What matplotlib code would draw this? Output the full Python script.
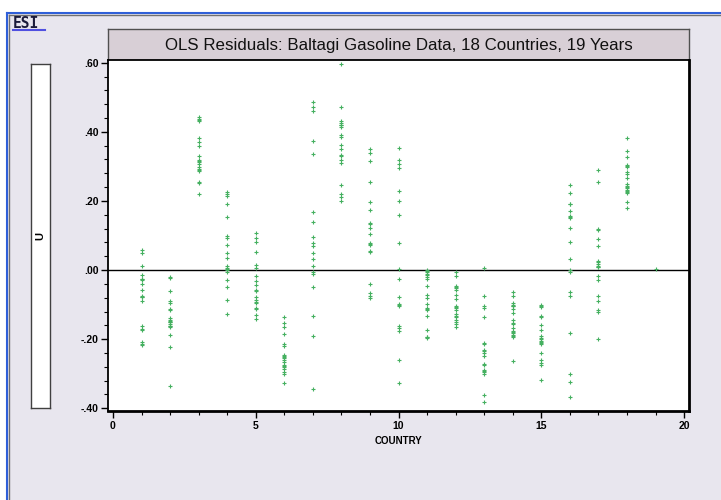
import matplotlib
matplotlib.use("Agg")
import matplotlib.pyplot as plt
from matplotlib.patches import Rectangle
from matplotlib.lines import Line2D
from matplotlib.ticker import MultipleLocator, FixedLocator

title = "OLS Residuals: Baltagi Gasoline Data, 18 Countries, 19 Years"
x_label = "COUNTRY"
y_label = "U"

countries = list(range(1, 20))
residuals = [
    [0.059, 0.048, 0.011, -0.014, -0.026, -0.027, -0.029, -0.040, -0.058, -0.075,
     -0.077, -0.079, -0.090, -0.161, -0.171, -0.174, -0.209, -0.213, -0.218],
    [-0.021, -0.024, -0.061, -0.091, -0.095, -0.112, -0.115, -0.140, -0.144, -0.147,
     -0.149, -0.151, -0.157, -0.161, -0.163, -0.166, -0.188, -0.222, -0.337],
    [0.444, 0.438, 0.433, 0.431, 0.382, 0.370, 0.360, 0.329, 0.318, 0.315,
     0.314, 0.306, 0.299, 0.292, 0.289, 0.286, 0.256, 0.253, 0.220],
    [0.225, 0.221, 0.214, 0.190, 0.153, 0.100, 0.094, 0.073, 0.048, 0.035,
     0.011, 0.006, 0.004, 0.001, -0.006, -0.029, -0.048, -0.088, -0.126],
    [0.107, 0.093, 0.080, 0.051, 0.016, 0.005, -0.016, -0.032, -0.044, -0.059,
     -0.062, -0.079, -0.086, -0.092, -0.096, -0.110, -0.113, -0.129, -0.142],
    [-0.136, -0.154, -0.164, -0.185, -0.214, -0.220, -0.246, -0.249, -0.253, -0.256,
     -0.260, -0.267, -0.274, -0.278, -0.281, -0.287, -0.294, -0.300, -0.326],
    [0.485, 0.471, 0.460, 0.374, 0.337, 0.168, 0.139, 0.096, 0.079, 0.071,
     0.050, 0.032, 0.011, -0.005, -0.011, -0.048, -0.134, -0.190, -0.343],
    [0.597, 0.471, 0.432, 0.425, 0.421, 0.419, 0.414, 0.392, 0.385, 0.361,
     0.350, 0.333, 0.331, 0.318, 0.311, 0.246, 0.220, 0.211, 0.201],
    [0.351, 0.340, 0.315, 0.256, 0.197, 0.174, 0.137, 0.134, 0.123, 0.104,
     0.078, 0.074, 0.072, 0.056, 0.052, -0.041, -0.067, -0.075, -0.081],
    [0.353, 0.318, 0.307, 0.296, 0.229, 0.200, 0.160, 0.078, 0.003, -0.027,
     -0.078, -0.097, -0.101, -0.104, -0.161, -0.169, -0.176, -0.260, -0.327],
    [0.000, -0.003, -0.007, -0.011, -0.015, -0.020, -0.025, -0.046, -0.071, -0.082,
     -0.097, -0.111, -0.113, -0.115, -0.132, -0.174, -0.193, -0.195, -0.198],
    [-0.007, -0.016, -0.046, -0.049, -0.052, -0.057, -0.073, -0.083, -0.104, -0.107,
     -0.110, -0.115, -0.127, -0.134, -0.137, -0.144, -0.150, -0.156, -0.165],
    [0.005, -0.075, -0.103, -0.110, -0.136, -0.212, -0.215, -0.230, -0.234, -0.239,
     -0.249, -0.273, -0.276, -0.289, -0.292, -0.295, -0.302, -0.362, -0.383],
    [-0.064, -0.075, -0.095, -0.101, -0.104, -0.105, -0.112, -0.123, -0.144, -0.152,
     -0.157, -0.168, -0.176, -0.179, -0.181, -0.188, -0.192, -0.195, -0.262],
    [-0.100, -0.104, -0.106, -0.132, -0.136, -0.159, -0.174, -0.191, -0.196, -0.200,
     -0.204, -0.209, -0.212, -0.215, -0.239, -0.259, -0.268, -0.275, -0.319],
    [0.246, 0.222, 0.192, 0.190, 0.171, 0.157, 0.154, 0.152, 0.123, 0.082,
     0.032, 0.000, -0.006, -0.064, -0.075, -0.183, -0.300, -0.324, -0.367],
    [0.289, 0.254, 0.120, 0.116, 0.091, 0.070, 0.027, 0.022, 0.017, 0.013,
     0.010, 0.008, -0.016, -0.029, -0.075, -0.091, -0.117, -0.120, -0.200],
    [0.382, 0.345, 0.326, 0.303, 0.300, 0.297, 0.285, 0.279, 0.267, 0.249,
     0.244, 0.241, 0.238, 0.232, 0.230, 0.227, 0.224, 0.197, 0.179],
    [0.002],
]
y_ticks = [-0.40, -0.20, 0.00, 0.20, 0.40, 0.60]
y_tick_labels = ["-.40", "-.20", ".00", ".20", ".40", ".60"]
x_ticks = [0, 5, 10, 15, 20]
x_tick_labels = ["0", "5", "10", "15", "20"]

W, H = 721, 500
BG = "#e8e6ee"
fig = plt.figure(figsize=(W / 100, H / 100), dpi=100, facecolor="white")
plt.rcParams["font.family"] = ["Liberation Sans", "DejaVu Sans"]

def fx(px):
    return px / W

def fy(py):
    return 1 - py / H

# window background & borders
fig.patches.append(Rectangle((fx(8), 0), 1 - fx(8), fy(12), transform=fig.transFigure,
                             facecolor=BG, edgecolor="none", zorder=-10))
fig.lines.append(Line2D([fx(7), 1], [fy(12.5), fy(12.5)], transform=fig.transFigure,
                        color="#2f5fd8", lw=1.5, zorder=-5))
fig.lines.append(Line2D([fx(7), fx(7)], [0, fy(12.5)], transform=fig.transFigure,
                        color="#2f5fd8", lw=1.5, zorder=-5))
fig.lines.append(Line2D([fx(9), 1], [fy(14.5), fy(14.5)], transform=fig.transFigure,
                        color="#707070", lw=1.0, zorder=-5))
fig.lines.append(Line2D([fx(9), fx(9)], [0, fy(14.5)], transform=fig.transFigure,
                        color="#707070", lw=1.0, zorder=-5))

# ESI logo
fig.text(fx(13), fy(23), "ESI", fontsize=10.5, fontweight="bold", family="DejaVu Sans Mono",
         color="#1a1a3a", va="center", ha="left")
fig.lines.append(Line2D([fx(13), fx(45)], [fy(30), fy(30)], transform=fig.transFigure,
                        color="#5050e0", lw=1.5))

# title box
tax = fig.add_axes([fx(108), fy(60), fx(689) - fx(108), fy(29) - fy(60)])
tax.set_facecolor("#d8cfd6")
tax.set_xticks([])
tax.set_yticks([])
for s in tax.spines.values():
    s.set_color("#505050")
    s.set_linewidth(1.0)
tax.text(0.5, 0.48, title, fontsize=12.2, ha="center", va="center", transform=tax.transAxes,
         color="#111111")

# U label box
uax = fig.add_axes([fx(31), fy(408), fx(50) - fx(31), fy(64) - fy(408)])
uax.set_facecolor("white")
uax.set_xticks([])
uax.set_yticks([])
for s in uax.spines.values():
    s.set_color("#404040")
    s.set_linewidth(1.0)
uax.text(0.5, 0.5, y_label, rotation=90, fontsize=8, fontweight="bold",
         ha="center", va="center", transform=uax.transAxes)

# main plot
ax = fig.add_axes([fx(108), fy(411), fx(689) - fx(108), fy(60) - fy(411)])
ax.set_facecolor("white")
for c, vals in zip(countries, residuals):
    ax.plot([c] * len(vals), vals, linestyle="none", marker="+", markersize=3.0,
            markeredgewidth=0.8, color="#45b060")
ax.axhline(0, color="black", lw=1.0, zorder=1)
ax.set_xlim(-0.175, 20.17)
ax.set_ylim(-0.408, 0.608)
ax.set_yticks(y_ticks)
ax.set_yticklabels(y_tick_labels)
ax.yaxis.set_minor_locator(MultipleLocator(0.04))
ax.set_xticks(x_ticks)
ax.set_xticklabels(x_tick_labels)
ax.xaxis.set_minor_locator(FixedLocator(range(0, 21)))
ax.tick_params(axis="both", which="major", direction="out", length=5, width=1.0,
               labelsize=7.5, pad=2)
ax.tick_params(axis="both", which="minor", direction="out", length=3, width=0.8)
for lab in ax.get_xticklabels() + ax.get_yticklabels():
    lab.set_fontweight("bold")
for s in ax.spines.values():
    s.set_color("black")
    s.set_linewidth(1.3)
ax.spines["right"].set_linewidth(2.0)
ax.spines["bottom"].set_linewidth(2.0)
ax.set_xlabel(x_label, fontsize=7, fontweight="bold", labelpad=4)

fig.savefig("out.png", dpi=100, facecolor="white")
